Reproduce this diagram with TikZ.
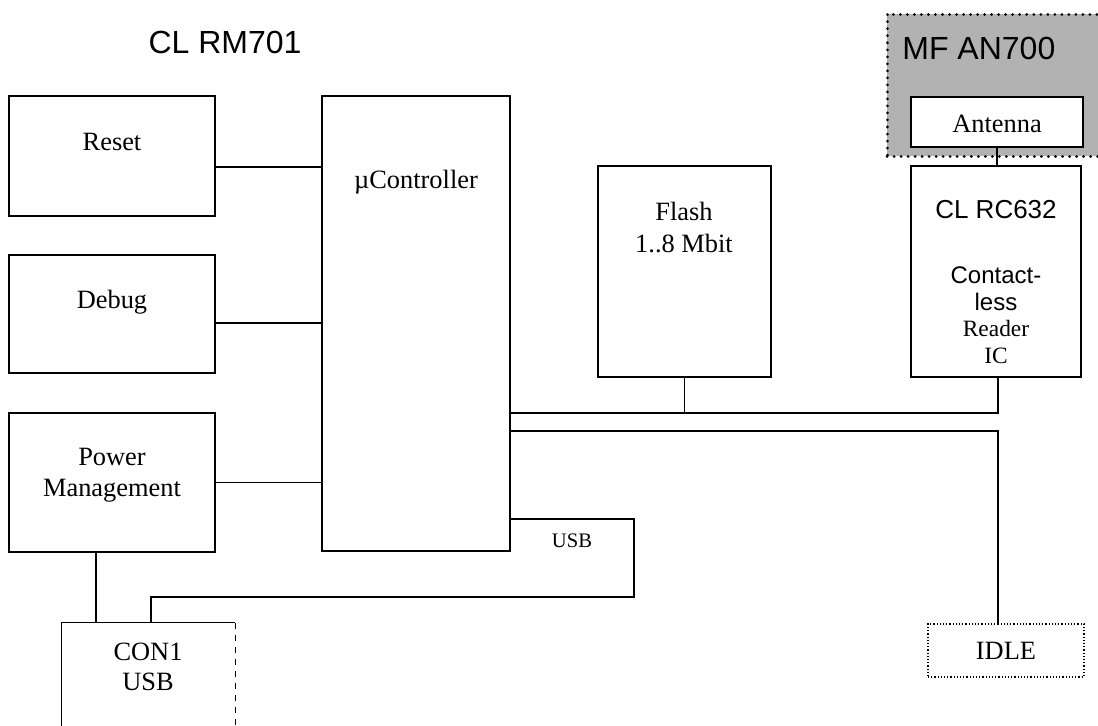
\documentclass[tikz,border=0pt]{standalone}
\usepackage{fontspec}
\setmainfont{Liberation Serif}
\setsansfont{Liberation Sans}
\usetikzlibrary{positioning}
\tikzset{
  blk_n/.style = {draw=black, line width=0.75pt, inner sep=0pt, rectangle},% plain block
  dot_n/.style = {draw=black, line width=0.7pt, inner sep=0pt, rectangle,
    dash pattern=on 0.6pt off 1pt},% dotted block
  grp_n/.style = {fill=gray!60, draw=black, line width=1.5pt, inner sep=0pt,
    dash pattern=on 0.01pt off 3.5pt, line cap=round},% antenna group
  txt_n/.style = {inner sep=0pt, align=center, font=\fontsize{13.2}{16}\selectfont},
  big_n/.style = {inner sep=0pt, font=\sffamily\fontsize{16}{19}\selectfont},
  wire/.style = {line width=0.75pt},
}
\begin{document}
\begin{tikzpicture}[x=0.5pt,y=-0.5pt]
\useasboundingbox (0,0) rectangle (1098,725);

% blocks
\node [grp_n, minimum width=110pt, minimum height=71pt] (mfan) at (997,85) {};
\node [blk_n, fill=white, minimum width=86pt, minimum height=25pt] (ant) at (997,122) {};
\node [blk_n, minimum width=103pt, minimum height=60pt] (reset) at (112,156) {};
\node [blk_n, minimum width=103pt, minimum height=59pt] (debug) at (112,314) {};
\node [blk_n, minimum width=103pt, minimum height=69.5pt] (power) at (112,482.5) {};
\node [blk_n, minimum width=94pt, minimum height=227.5pt] (ctrl) at (416,323.5) {};
\node [blk_n, minimum width=86.5pt, minimum height=105.5pt] (flash) at (684.5,271.5) {};
\node [blk_n, minimum width=85pt, minimum height=105.5pt] (rc632) at (996,271.5) {};
\node [dot_n, minimum width=78pt, minimum height=26.5pt] (idle) at (1006,650.5) {};
\node [inner sep=0pt, minimum width=86.5pt, minimum height=58.5pt] (con1) at (148.5,681.5) {};
\draw [wire] (con1.south west) -- (con1.north west) -- (con1.north east);
\draw [wire, dashed] (con1.north east) -- (con1.south east);

% texts
\node [big_n] (title) at (225,42) {CL RM701};
\node [big_n, anchor=west] (mftxt) at (902,48) {MF AN700};
\node [txt_n] (anttxt) at (997,124) {Antenna};
\node [txt_n] (resettxt) at (112,142) {Reset};
\node [txt_n] (debugtxt) at (112,302) {Debug};
\node [txt_n, font=\fontsize{13.2}{15.5}\selectfont] (powertxt) at (112,475) {Power\\Management};
\node [txt_n] (ctrltxt) at (416,182) {µController};
\node [txt_n] (flashtxt) at (684,228) {Flash\\1..8 Mbit};
\node [txt_n, font=\sffamily\fontsize{13}{16}\selectfont] (rctxt) at (996,210) {CL RC632};
\node [txt_n, font=\sffamily\fontsize{12}{13.5}\selectfont] (cltxt) at (996,288.5) {Contact-\\less};
\node [txt_n, font=\fontsize{11.7}{13.5}\selectfont] (ictxt) at (996,341.5) {Reader\\IC};
\node [txt_n] (idletxt) at (1006,651) {IDLE};
\node [txt_n, font=\fontsize{13.2}{15}\selectfont] (contxt) at (148,667) {CON1\\USB};
\node [txt_n, font=\fontsize{10.3}{12}\selectfont] (usbtxt) at (572,541) {USB};

% connectors
\draw [wire] ([yshift=-5.5pt]reset.east) -- (ctrl.west |- 0,167);
\draw [wire] ([yshift=-4.5pt]debug.east) -- (ctrl.west |- 0,323);
\draw [wire] (power.east) -- (ctrl.west |- power.east);
\draw [wire] ([xshift=-8pt]power.south) -- (96,623);
\draw [wire] (ant.south) -- (rc632.north -| ant.south);
\draw [wire] (ctrl.east |- 0,413) -| ([xshift=1pt]rc632.south);
\draw [wire] (flash.south) -- (flash.south |- 0,413);
\draw [wire] (ctrl.east |- 0,431) -| ([xshift=-4pt]idle.north);
\draw [wire] (ctrl.east |- 0,519) -| (634,597) -| ([xshift=1.25pt]con1.north);
\end{tikzpicture}
\end{document}
